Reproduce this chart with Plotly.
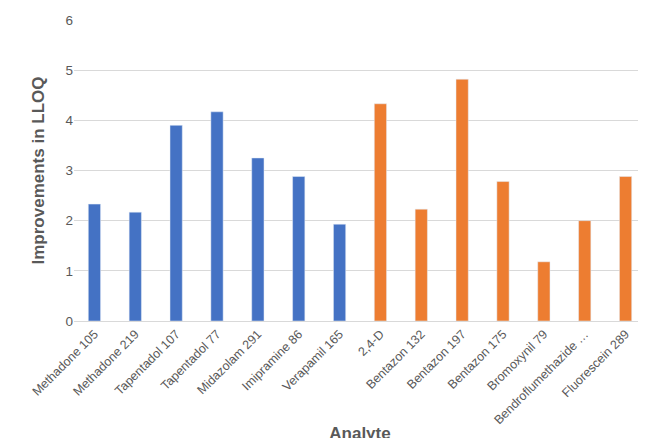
import plotly.graph_objects as go

# analytes and their LLOQ improvement factors
analytes = ["Methadone 105", "Methadone 219", "Tapentadol 107", "Tapentadol 77",
            "Midazolam 291", "Imipramine 86", "Verapamil 165", "2,4-D",
            "Bentazon 132", "Bentazon 197", "Bentazon 175", "Bromoxynil 79",
            "Bendroflumethazide …", "Fluorescein 289"]
improvements = [2.33, 2.17, 3.9, 4.17, 3.25, 2.88, 1.93, 4.33,
                2.23, 4.82, 2.78, 1.18, 2.0, 2.88]
colours = ["#4472C4"] * 7 + ["#ED7D31"] * 7

fig = go.Figure()
fig.add_trace(go.Bar(x=analytes, y=improvements, marker_color=colours,
                     width=0.3, showlegend=False))

fig.update_layout(
    width=646, height=438,
    margin=dict(l=66, r=8, t=12, b=125),
    plot_bgcolor="white", paper_bgcolor="white",
    font=dict(family="Liberation Sans, Arial", color="#595959", size=13.5),
    xaxis=dict(tickangle=-45, showline=True, linecolor="#d9d9d9", automargin=False,
               tickfont=dict(size=12.5),
               title=dict(text="<b>Analyte</b>", font=dict(size=17), standoff=0)),
    yaxis=dict(range=[0, 6], dtick=1, gridcolor="#d9d9d9", zeroline=False,
               ticks="", automargin=False,
               title=dict(text="<b>Improvements in LLOQ</b>",
                          font=dict(size=17), standoff=16)),
)

fig.write_html("out.html")
